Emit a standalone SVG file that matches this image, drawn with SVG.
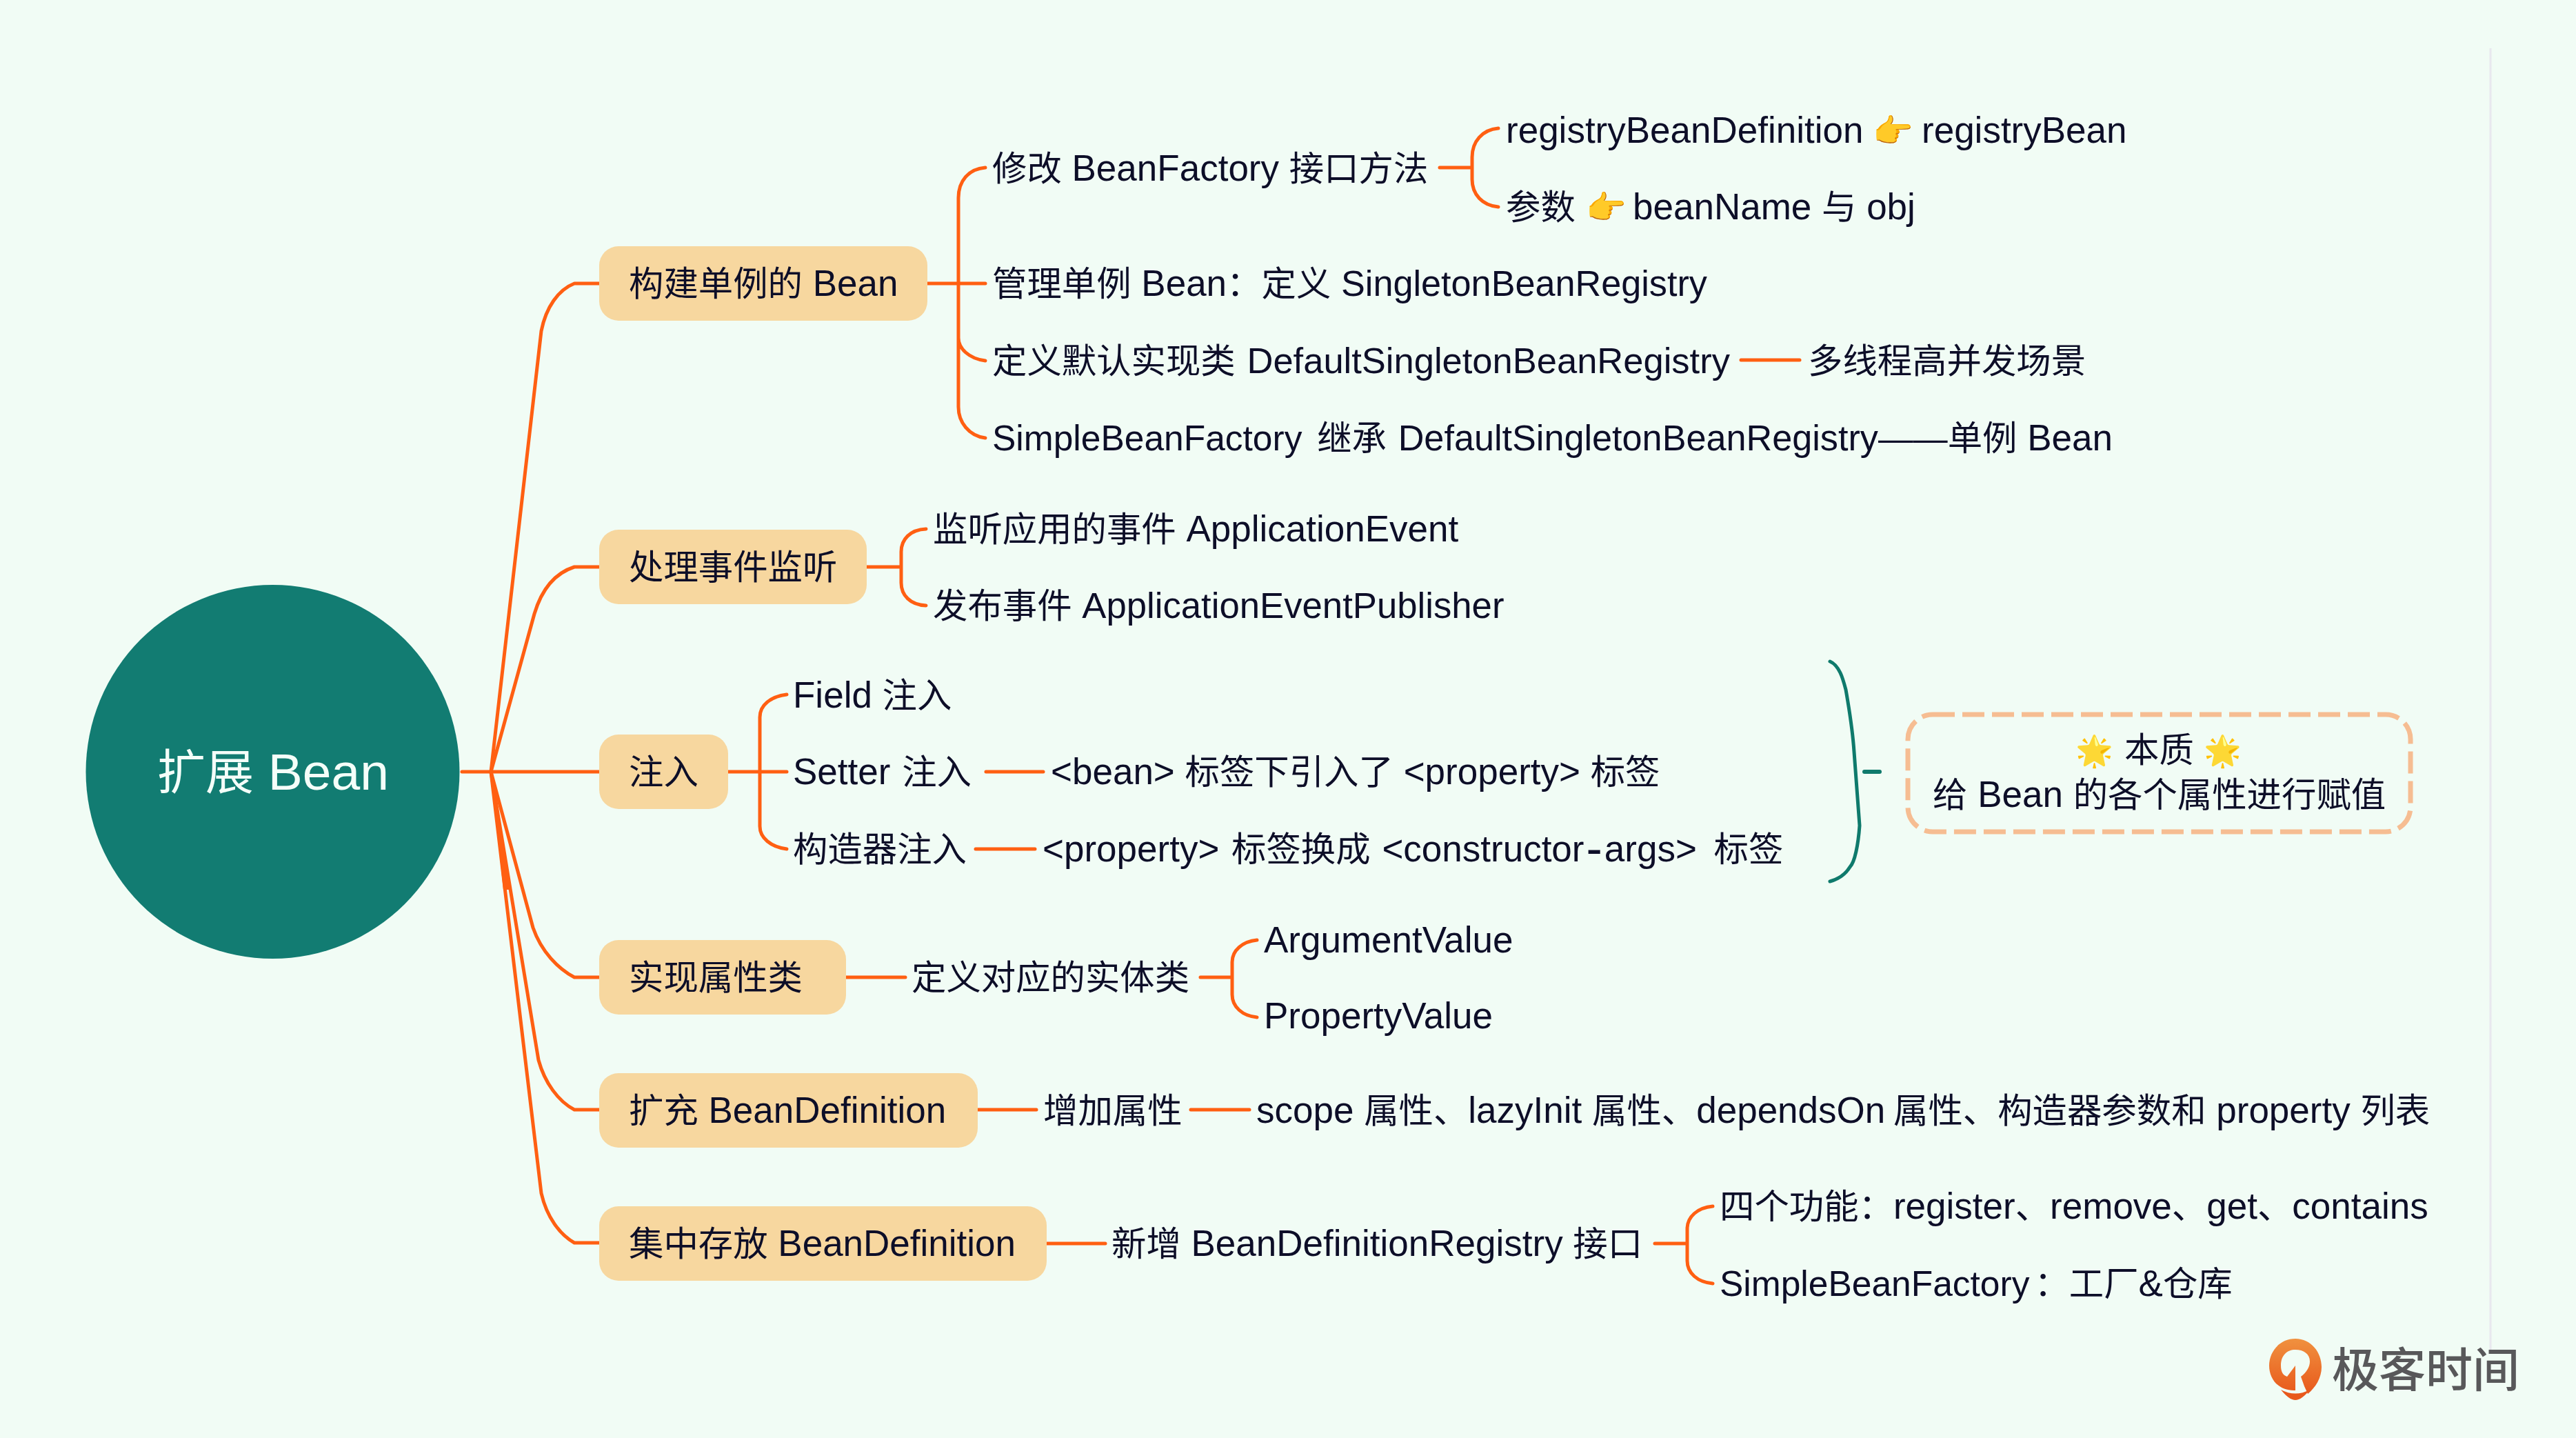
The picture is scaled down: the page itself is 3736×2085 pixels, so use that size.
<svg xmlns="http://www.w3.org/2000/svg" width="3736" height="2085" viewBox="0 0 3736 2085">
<style>
text{font-family:"Liberation Sans","Noto Sans CJK SC",sans-serif;font-size:53px;fill:#0d0e28}
.z{font-size:50.400px}
.s{font-size:52.200px}
.b{font-size:51.500px}
.n{fill:#f7d79f}
.c{fill:none;stroke:#ff5f12;stroke-width:5;stroke-linecap:round;stroke-linejoin:round}
.t{fill:none;stroke:#0f7a6c;stroke-width:5;stroke-linecap:round}
.e{font-size:47px}
.f{font-size:44px}
</style>
<rect width="3736" height="2085" fill="#f1fcf5"/>
<path d="M3612 70V1960" stroke="#e8e8ee" stroke-width="3" fill="none"/>
<g id="connectors">
<path class="c" d="M670 1119H712"/>
<path class="c" d="M712 1119L785 480C792 445 810 420 833 411H873"/>
<path class="c" d="M712 1119L775 890C787 850 808 830 833 822H873"/>
<path class="c" d="M712 1119H873"/>
<path class="c" d="M712 1119L773 1345C785 1380 810 1405 833 1417H873"/>
<path class="c" d="M712 1119L781 1537C790 1570 810 1597 833 1609H873"/>
<path class="c" d="M712 1119L785 1730C793 1765 812 1790 833 1802H873"/>
<path d="M712 1119L730 1290L742 1290Z" fill="#ff5f12"/>
<path class="c" d="M1345 411H1429M1429 243C1405 245 1390 262 1390 287V590C1390 612 1405 632 1429 635M1390 490C1390 505 1405 520 1429 523"/>
<path class="c" d="M2088 243H2135M2173 186C2150 188 2135 205 2135 228V260C2135 282 2150 298 2173 300"/>
<path class="c" d="M2525 522H2610"/>
<path class="c" d="M1257 822H1307M1343 767C1320 768 1307 782 1307 800V845C1307 863 1320 877 1343 878"/>
<path class="c" d="M1056 1119H1141M1141 1007C1118 1010 1102 1022 1102 1040V1198C1102 1215 1118 1228 1141 1231"/>
<path class="c" d="M1430 1119H1513M1415 1231H1501"/>
<path class="c" d="M1227 1417H1313M1741 1417H1787M1823 1363C1802 1365 1787 1378 1787 1395V1442C1787 1460 1802 1473 1823 1475"/>
<path class="c" d="M1418 1609H1503M1727 1609H1812"/>
<path class="c" d="M1518 1803H1603M2400 1803H2447M2484 1749C2462 1751 2447 1764 2447 1782V1828C2447 1846 2462 1859 2484 1861"/>
<path class="t" d="M2654 959C2668 965 2673 985 2677 1000C2684 1040 2687 1060 2689 1090L2697 1197C2695 1225 2690 1250 2683 1257C2675 1270 2665 1275 2654 1278"/>
<path class="t" d="M2704 1119H2726" style="stroke-width:6"/>
</g>
<g id="root"><circle cx="395.500" cy="1119" r="271" fill="#127c72"/><text x="228" y="1145" style="font-size:75px;fill:#f4fff9"><tspan style="font-size:70px">扩展</tspan> Bean</text></g>
<g id="n1"><rect class="n" x="869" y="357" width="476" height="108" rx="28"/><text x="912" y="429"><tspan class="z">构建单例的</tspan> Bean</text></g>
<g id="n2"><rect class="n" x="869" y="768" width="388" height="108" rx="28"/><text x="912" y="840"><tspan class="z">处理事件监听</tspan></text></g>
<g id="n3"><rect class="n" x="869" y="1065" width="187" height="108" rx="28"/><text x="912" y="1137"><tspan class="z">注入</tspan></text></g>
<g id="n4"><rect class="n" x="869" y="1363" width="358" height="108" rx="28"/><text x="912" y="1435"><tspan class="z">实现属性类</tspan></text></g>
<g id="n5"><rect class="n" x="869" y="1556" width="549" height="108" rx="28"/><text x="912" y="1628"><tspan class="z">扩充</tspan> BeanDefinition</text></g>
<g id="n6"><rect class="n" x="869" y="1749" width="649" height="108" rx="28"/><text x="912" y="1821"><tspan class="z">集中存放</tspan> BeanDefinition</text></g>
<g id="n1-children">
<text x="1439" y="262"><tspan class="z">修改</tspan> BeanFactory <tspan class="z">接口方法</tspan></text>
<text x="2184" y="207">registryBeanDefinition</text><text class="e" x="2716" y="206">👉</text><text x="2787" y="207">registryBean</text>
<text x="2184" y="318"><tspan class="z">参数</tspan></text><text class="e" x="2300" y="317">👉</text><text x="2368" y="318">beanName <tspan class="z">与</tspan> obj</text>
<text x="1439" y="429"><tspan class="z">管理单例</tspan> Bean<tspan class="z">：定义</tspan> <tspan class="s">SingletonBeanRegistry</tspan></text>
<text x="1439" y="541"><tspan class="z">定义默认实现类</tspan> <tspan style="font-size:52.500px" dx="2">DefaultSingletonBeanRegistry</tspan></text>
<text x="2622" y="541"><tspan class="z">多线程高并发场景</tspan></text>
<text x="1439" y="653"><tspan class="b">SimpleBeanFactory</tspan> <tspan class="z" dx="7">继承</tspan> <tspan class="s" dx="2">DefaultSingletonBeanRegistry</tspan><tspan class="z">——单例</tspan> Bean</text>
</g>
<g id="n2-children">
<text x="1353" y="785"><tspan class="z">监听应用的事件</tspan> ApplicationEvent</text>
<text x="1353" y="896"><tspan class="z">发布事件</tspan> <tspan style="font-size:52.700px">ApplicationEventPublisher</tspan></text>
</g>
<g id="n3-children">
<text x="1150" y="1026">Field <tspan class="z">注入</tspan></text>
<text x="1150" y="1137">Setter <tspan class="z" dx="2">注入</tspan></text>
<text x="1524" y="1137">&lt;bean&gt; <tspan class="z">标签下引入了</tspan> &lt;property&gt; <tspan class="z">标签</tspan></text>
<text x="1150" y="1249"><tspan class="z">构造器注入</tspan></text>
<text x="1512" y="1249">&lt;property&gt; <tspan class="z" dx="3">标签换成</tspan> <tspan dx="2">&lt;constructor</tspan><tspan dx="3" dy="5" style="font-size:70px">-</tspan><tspan dx="3" dy="-5">args&gt;</tspan> <tspan class="z" dx="10">标签</tspan></text>
</g>
<g id="summary">
<rect x="2767" y="1036" width="729" height="170" rx="36" fill="none" stroke="#f6bd92" stroke-width="7" stroke-dasharray="32 11"/>
<text class="f" x="3010" y="1104">🌟</text><text x="3081" y="1105"><tspan class="z">本质</tspan></text><text class="f" x="3196" y="1104">🌟</text>
<text x="2803" y="1170"><tspan class="z">给</tspan> Bean <tspan class="z">的各个属性进行赋值</tspan></text>
</g>
<g id="n4-children">
<text x="1322" y="1435"><tspan class="z">定义对应的实体类</tspan></text>
<text x="1833" y="1381">ArgumentValue</text>
<text x="1833" y="1491">PropertyValue</text>
</g>
<g id="n5-children">
<text x="1513" y="1628"><tspan class="z">增加属性</tspan></text>
<text x="1822" y="1628">scope <tspan class="z">属性、</tspan>lazyInit <tspan class="z">属性、</tspan>dependsOn <tspan class="z" dx="-3">属性、构造器参数和</tspan> property <tspan class="z">列表</tspan></text>
</g>
<g id="n6-children">
<text x="1612" y="1821"><tspan class="z">新增</tspan> BeanDefinitionRegistry <tspan class="z">接口</tspan></text>
<text x="2494" y="1767"><tspan class="z">四个功能：</tspan>register<tspan class="z">、</tspan>remove<tspan class="z">、</tspan>get<tspan class="z">、</tspan>contains</text>
<text x="2494" y="1879"><tspan class="b">SimpleBeanFactory</tspan><tspan class="z" dx="7">：工厂</tspan>&amp;<tspan class="z">仓库</tspan></text>
</g>
<g id="logo">
<defs><linearGradient id="lg" x1="0" y1="0" x2="0" y2="1"><stop offset="0" stop-color="#f0913f"/><stop offset="1" stop-color="#e8591c"/></linearGradient></defs>
<path fill="url(#lg)" fill-rule="evenodd" d="M3329 1941C3352 1941 3367 1961 3367 1982C3367 1998 3358 2012 3347 2021L3342 2010L3337 1996C3345 1990 3350 1982 3350 1974C3350 1963 3341 1957 3329 1957C3317 1957 3308 1965 3308 1980C3308 1989 3311 1994 3317 1996L3329 1980V2016C3305 2017 3291 2000 3291 1980C3291 1960 3306 1941 3329 1941Z"/>
<path fill="#e8591c" d="M3308 2015Q3329 2026 3350 2015Q3338 2030 3329 2030Q3320 2030 3308 2015Z"/>
<text x="3382" y="2011" style="font-size:68px;font-weight:500;fill:#58585a">极客时间</text>
</g>
</svg>
